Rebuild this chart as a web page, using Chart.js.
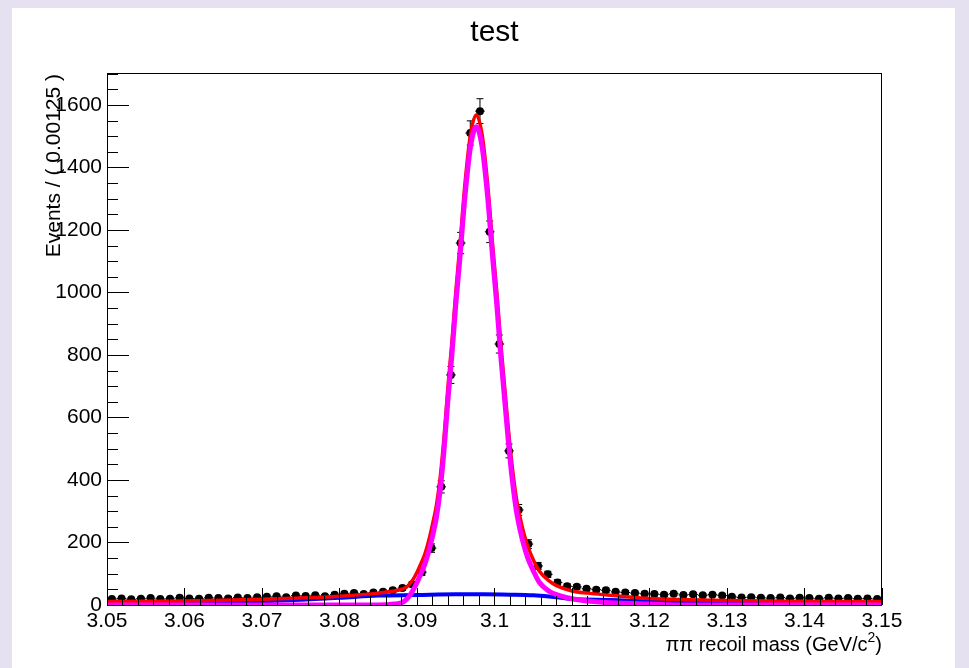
<!DOCTYPE html>
<html>
<head>
<meta charset="utf-8">
<script src="https://cdn.jsdelivr.net/npm/chart.js@4.4.1/dist/chart.umd.min.js"></script>
<style>
html, body { margin: 0; padding: 0; background: #e5e1f1; }
#wrap { position: relative; width: 969px; height: 668px; overflow: hidden; }
#pad { position: absolute; left: 12px; top: 8px; width: 943px; height: 660px; background: #fff; }
#c { position: absolute; left: 0; top: 0; }
</style>
</head>
<body>
<div id="wrap"><div id="pad"></div><canvas id="c" width="969" height="668"></canvas></div>
<script>
// histogram: 80 bins of 0.00125 from 3.05 to 3.15
const binLow = 3.05;
const binWidth = 0.00125;
const counts = [
  19, 21, 18, 20, 22, 19, 20, 23,
  21, 20, 23, 22, 21, 24, 22, 25,
  26, 28, 25, 30, 29, 31, 28, 33,
  36, 38, 35, 40, 42, 47, 54, 66,
  105, 182, 378, 736, 1158, 1510, 1580, 1194, 835, 493, 304, 195, 125, 98, 72, 60,
  58, 52, 49, 47, 42, 40, 38, 36,
  35, 33, 36, 32, 34, 31, 33, 30,
  26, 24, 25, 23, 22, 24, 21, 23, 22, 20, 23, 21, 22, 20, 21, 19
];

// fit curves
const totalX = [3.05, 3.055, 3.06, 3.065, 3.07, 3.075, 3.08, 3.085, 3.0875, 3.0885, 3.089, 3.0895, 3.09, 3.0905, 3.091, 3.0915, 3.092, 3.0925, 3.093, 3.0935, 3.094, 3.0945, 3.095, 3.0955, 3.0962, 3.0969, 3.09765,
  3.0984, 3.0991, 3.0998, 3.1003, 3.1008, 3.1013, 3.1018, 3.1023, 3.1028, 3.1033, 3.1038, 3.1043, 3.105, 3.1058, 3.107, 3.108, 3.11, 3.112, 3.115, 3.118, 3.12, 3.125, 3.13, 3.14, 3.15];
const totalY = [11, 12, 13, 15, 18, 22, 28, 38, 47, 55, 66, 82, 105, 132, 162, 205, 258, 318, 410, 540, 700, 840, 1000, 1140, 1350, 1505, 1568,
  1505, 1350, 1140, 1000, 840, 700, 560, 440, 345, 280, 228, 188, 145, 108, 78, 62, 45, 38, 31, 24, 21, 17, 14, 12, 11];

const signalX = [3.05, 3.08, 3.086, 3.087, 3.088, 3.0885, 3.089, 3.0895, 3.09, 3.0905, 3.091, 3.0915, 3.092, 3.0925, 3.093, 3.0935, 3.094, 3.0945, 3.095, 3.0955, 3.0962, 3.0969, 3.09765,
  3.0984, 3.0991, 3.0998, 3.1003, 3.1008, 3.1013, 3.1018, 3.1023, 3.1028, 3.1033, 3.1038, 3.1043, 3.105, 3.1058, 3.107, 3.108, 3.11, 3.112, 3.115, 3.12, 3.125, 3.15];
const signalY = [0, 0, 1, 3, 7, 15, 28, 48, 72, 100, 130, 170, 220, 280, 370, 500, 660, 800, 960, 1100, 1310, 1466, 1530,
  1466, 1310, 1100, 960, 800, 660, 520, 400, 305, 240, 190, 150, 110, 72, 45, 33, 20, 13, 7, 3, 0, 0];

const bkgX = [3.05, 3.055, 3.06, 3.065, 3.07, 3.075, 3.08, 3.085, 3.09, 3.095, 3.0985, 3.102, 3.105, 3.108, 3.11, 3.115, 3.12, 3.125, 3.13, 3.14, 3.15];
const bkgY = [1, 2, 5, 9, 12, 17, 23, 30, 32, 34, 34, 33, 31, 25, 19, 16, 11, 9, 6, 3, 1];

const xTicks = { min: 3.05, max: 3.15, step: 0.01, minor: 0.002 };
const yTicks = { min: 0, max: 1702, step: 200, minor: 50 };

const FONT = '"Liberation Sans", Arial, Helvetica, sans-serif';

const pts = (xs, ys) => xs.map((x, i) => ({ x: x, y: ys[i] }));
const dataPts = counts.map((n, i) => ({ x: binLow + (i + 0.5) * binWidth, y: n }));

const rootDecor = {
  id: 'rootDecor',
  beforeDatasetsDraw(chart) {
    const { ctx, chartArea, scales: { x, y } } = chart;
    ctx.save();
    ctx.beginPath();
    ctx.rect(chartArea.left, chartArea.top, chartArea.right - chartArea.left, chartArea.bottom - chartArea.top);
    ctx.clip();
    ctx.strokeStyle = '#000';
    ctx.lineWidth = 1;
    dataPts.forEach((p) => {
      const err = Math.sqrt(p.y);
      const px = x.getPixelForValue(p.x);
      const py = y.getPixelForValue(p.y);
      const t = y.getPixelForValue(p.y + err);
      const b = y.getPixelForValue(p.y - err);
      ctx.beginPath();
      ctx.moveTo(x.getPixelForValue(p.x - binWidth / 2), py);
      ctx.lineTo(x.getPixelForValue(p.x + binWidth / 2), py);
      ctx.moveTo(px, t);
      ctx.lineTo(px, b);
      ctx.moveTo(px - 3.5, t);
      ctx.lineTo(px + 3.5, t);
      ctx.moveTo(px - 3.5, b);
      ctx.lineTo(px + 3.5, b);
      ctx.stroke();
    });
    ctx.restore();
  },
  afterDraw(chart) {
    const { ctx, chartArea, scales: { x, y } } = chart;
    const L = chartArea.left, R = chartArea.right, T = chartArea.top, B = chartArea.bottom;
    ctx.save();
    ctx.strokeStyle = '#000';
    ctx.lineWidth = 1;
    // frame
    ctx.strokeRect(L + 0.5, T + 0.5, R - L - 1, B - T);
    // x ticks
    ctx.beginPath();
    const nx = Math.round((xTicks.max - xTicks.min) / xTicks.minor);
    for (let i = 0; i <= nx; i++) {
      const px = Math.round(x.getPixelForValue(xTicks.min + i * xTicks.minor)) + 0.5;
      const len = i % 5 === 0 ? 17 : 9;
      ctx.moveTo(px, B);
      ctx.lineTo(px, B - len);
    }
    // y ticks
    for (let v = yTicks.min; v <= yTicks.max; v += yTicks.minor) {
      const py = Math.round(y.getPixelForValue(v)) + 0.5;
      const len = v % yTicks.step === 0 ? 22 : 11;
      ctx.moveTo(L, py);
      ctx.lineTo(L + len, py);
    }
    ctx.stroke();

    ctx.fillStyle = '#000';
    // title
    ctx.font = '30px ' + FONT;
    ctx.textAlign = 'center';
    ctx.textBaseline = 'alphabetic';
    ctx.fillText('test', (L + R) / 2, 41);

    // x title with superscript
    const main = 'ππ recoil mass (GeV/c';
    ctx.font = '20px ' + FONT;
    const wClose = ctx.measureText(')').width;
    const wMain = ctx.measureText(main).width;
    ctx.font = '14px ' + FONT;
    const wSup = ctx.measureText('2').width;
    let xr = R;
    ctx.textAlign = 'left';
    ctx.font = '20px ' + FONT;
    ctx.fillText(')', xr - wClose, 651);
    xr -= wClose;
    ctx.font = '14px ' + FONT;
    ctx.fillText('2', xr - wSup, 642);
    xr -= wSup;
    ctx.font = '20px ' + FONT;
    ctx.fillText(main, xr - wMain, 651);

    // y title
    ctx.translate(60, T + 1);
    ctx.rotate(-Math.PI / 2);
    ctx.textAlign = 'right';
    ctx.font = '21px ' + FONT;
    ctx.fillText('Events / ( 0.00125 )', 0, 0);
    ctx.restore();
  }
};

const curve = (label, xs, ys, color, width, order) => ({
  label: label,
  data: pts(xs, ys),
  borderColor: color,
  borderWidth: width,
  pointRadius: 0,
  cubicInterpolationMode: 'monotone',
  fill: false,
  order: order
});

new Chart(document.getElementById('c'), {
  type: 'line',
  data: {
    datasets: [
      curve('signal', signalX, signalY, '#ff00ff', 5, 1),
      curve('total', totalX, totalY, '#ff0000', 3.5, 2),
      curve('background', bkgX, bkgY, '#0000ff', 4, 3),
      {
        label: 'data',
        data: dataPts,
        showLine: false,
        pointRadius: 4,
        pointHoverRadius: 4,
        pointBackgroundColor: '#000',
        pointBorderWidth: 0,
        order: 4
      }
    ]
  },
  options: {
    responsive: false,
    animation: false,
    devicePixelRatio: 1,
    layout: { padding: { left: 0, right: 87, top: 73, bottom: 0 } },
    plugins: {
      legend: { display: false },
      title: { display: false },
      tooltip: { enabled: false }
    },
    scales: {
      x: {
        type: 'linear',
        min: xTicks.min,
        max: xTicks.max,
        grid: { display: false, drawTicks: false },
        border: { display: false },
        ticks: {
          stepSize: xTicks.step,
          padding: 4,
          color: '#000',
          maxRotation: 0,
          autoSkip: false,
          font: { family: FONT, size: 21 },
          callback: (v) => String(parseFloat(Number(v).toFixed(2)))
        },
        afterFit: (s) => { s.height = 63; }
      },
      y: {
        min: yTicks.min,
        max: yTicks.max,
        grid: { display: false, drawTicks: false },
        border: { display: false },
        ticks: {
          stepSize: yTicks.step,
          includeBounds: false,
          padding: 5,
          color: '#000',
          font: { family: FONT, size: 21 },
          callback: (v) => String(v)
        },
        afterFit: (s) => { s.width = 107; }
      }
    }
  },
  plugins: [rootDecor]
});
</script>
</body>
</html>
